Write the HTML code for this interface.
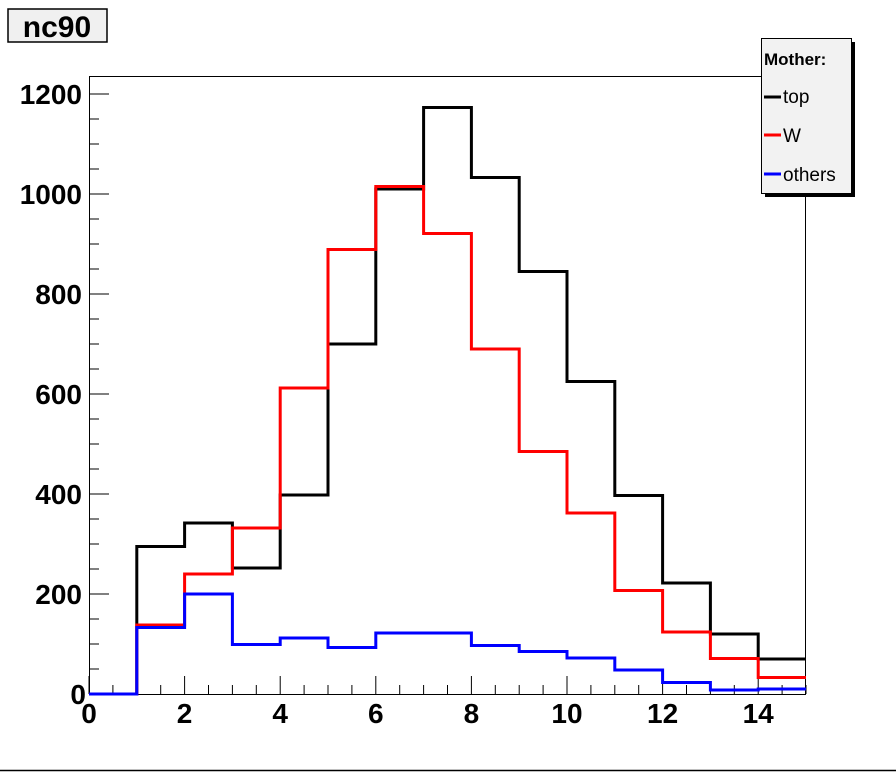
<!DOCTYPE html>
<html><head><style>body{margin:0;background:#fff}svg{display:block}text{font-family:"Liberation Sans",Arial,sans-serif}</style></head>
<body>
<svg id="s" width="896" height="772" xmlns="http://www.w3.org/2000/svg">
<rect x="0" y="0" width="896" height="772" fill="#fff"/>
<rect x="8" y="9" width="99" height="33" fill="#f0f0f0" stroke="#000" stroke-width="1.5"/>
<text x="57" y="37" font-size="30" font-weight="bold" text-anchor="middle">nc90</text>
<rect x="89.5" y="76.5" width="716" height="618" fill="none" stroke="#000" stroke-width="1"/>
<g id="ticks" stroke="#000" stroke-width="1"></g>
<g id="lab" font-size="28" font-weight="bold"></g>
<g id="hist" fill="none" stroke-width="3"></g>
<rect x="765" y="42" width="90" height="155" fill="#000"/>
<rect x="761.5" y="38.5" width="90" height="155" fill="#f2f2f2" stroke="#000" stroke-width="1"/>
<text x="764" y="65" font-size="17" font-weight="bold">Mother:</text>
<line x1="764" y1="97" x2="781" y2="97" stroke="#000" stroke-width="3"/>
<text x="783" y="103" font-size="19">top</text>
<line x1="764" y1="135" x2="781" y2="135" stroke="#f00" stroke-width="3"/>
<text x="783" y="142" font-size="19">W</text>
<line x1="764" y1="174" x2="781" y2="174" stroke="#00f" stroke-width="3"/>
<text x="783" y="181" font-size="19">others</text>
<line x1="0" y1="770.5" x2="896" y2="770.5" stroke="#000" stroke-width="1.5"/>
</svg>
<script>
var X=function(v){return 89+v*47.8},Y=function(v){return 694-v*0.5};
var t=document.getElementById('ticks'),l=document.getElementById('lab'),h=document.getElementById('hist'),o='';
for(var v=0;v<=1240;v+=50){var y=Y(v);if(y<77)break;var L=(v%200==0)?20:10;o+='<line x1="89" y1="'+y+'" x2="'+(89+L)+'" y2="'+y+'"/>';}
for(var v=0;v<=15;v+=0.5){var x=X(v);var L=(v%2==0)?18:9;o+='<line x1="'+x+'" y1="694" x2="'+x+'" y2="'+(694-L)+'"/>';}
t.innerHTML=o;o='';
for(var v=0;v<=1200;v+=200){o+='<text x="'+(v==0?86:82)+'" y="'+(Y(v)+10)+'" text-anchor="end">'+v+'</text>';}
for(var v=0;v<=14;v+=2){o+='<text x="'+X(v)+'" y="723" text-anchor="middle">'+v+'</text>';}
l.innerHTML=o;
var D=[["#000",[0,295,342,252,398,700,1010,1173,1033,845,625,397,222,120,70]],
["#f00",[0,138,240,332,612,889,1015,921,690,485,362,207,124,71,33]],
["#00f",[0,133,200,99,112,93,122,122,97,85,72,48,23,8,10]]];
o='';D.forEach(function(d){var p='M'+X(0)+' '+Y(d[1][0]);for(var i=0;i<15;i++){p+=' L'+X(i)+' '+Y(d[1][i])+' L'+X(i+1)+' '+Y(d[1][i]);}o+='<path d="'+p+'" stroke="'+d[0]+'"/>';});
h.innerHTML=o;
</script>
</body></html>
